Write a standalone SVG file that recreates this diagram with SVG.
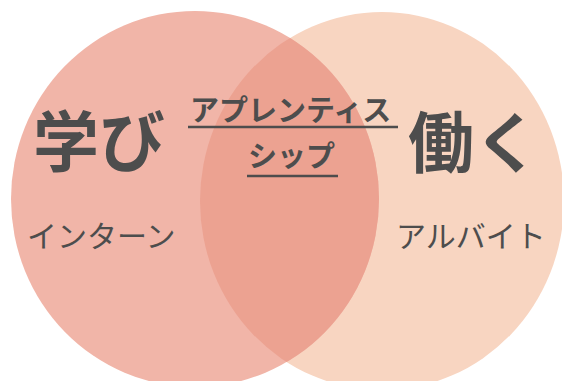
<svg xmlns="http://www.w3.org/2000/svg" width="562" height="381" viewBox="0 0 562 381">
  <style>
    .t { font-family: "Noto Sans CJK JP", "Noto Sans", sans-serif; fill: #4d4d4d; }
    .big { font-size: 66px; font-weight: 700; }
    .mid { font-size: 29px; font-weight: 700; }
    .small { font-size: 30px; font-weight: 400; }
    .ul { stroke: #4d4d4d; stroke-width: 2.5; }
  </style>
  <defs>
    <clipPath id="leftClip">
      <ellipse cx="195" cy="199" rx="184" ry="188"/>
    </clipPath>
  </defs>
  <rect width="562" height="381" fill="#ffffff"/>
  <g id="right-circle">
    <ellipse cx="382" cy="201" rx="182" ry="189" fill="#F8D5C1"/>
  </g>
  <g id="left-circle">
    <ellipse cx="195" cy="199" rx="184" ry="188" fill="#F1B5A8"/>
  </g>
  <g id="overlap">
    <ellipse cx="382" cy="201" rx="182" ry="189" fill="#ECA291" clip-path="url(#leftClip)"/>
  </g>
  <g id="manabi">
    <text class="t big" x="33" y="166">学び</text>
  </g>
  <g id="hataraku">
    <text class="t big" x="408" y="167">働く</text>
  </g>
  <g id="apprenticeship">
    <text class="t mid" x="190" y="121">アプレンティス</text>
    <line class="ul" x1="188" y1="127" x2="398" y2="127"/>
    <text class="t mid" x="248" y="167">シップ</text>
    <line class="ul" x1="247" y1="176" x2="338" y2="176"/>
  </g>
  <g id="intern">
    <text class="t small" x="27" y="247">インターン</text>
  </g>
  <g id="arbeit">
    <text class="t small" x="396" y="247">アルバイト</text>
  </g>
</svg>
